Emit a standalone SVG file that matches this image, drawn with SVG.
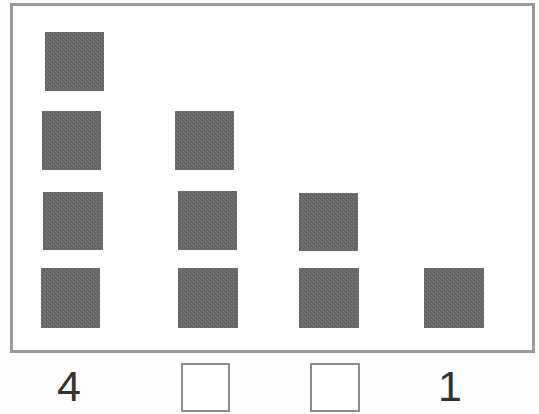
<svg xmlns="http://www.w3.org/2000/svg" width="539" height="414" viewBox="0 0 539 414">
  <defs>
    <pattern id="dots" width="4" height="4" patternUnits="userSpaceOnUse">
      <rect width="4" height="4" fill="#666"/>
      <rect x="1" y="1" width="1" height="1" fill="#8a8a8a"/>
      <rect x="3" y="3" width="1" height="1" fill="#7c7c7c"/>
    </pattern>
  </defs>
  <style>
    .sq { fill: url(#dots); }
    .box { fill: #ffffff; stroke: #8c8c8c; stroke-width: 2; }
    .num { font-family: "Liberation Sans", Arial, sans-serif; font-size: 43px; fill: #333; text-anchor: middle; }
  </style>
  <rect width="539" height="414" fill="#fdfdfd"/>
  <g id="frame">
    <rect x="11.5" y="4.5" width="522" height="347" fill="#ffffff" stroke="#9a9a9a" stroke-width="3"/>
  </g>
  <g id="column1">
    <rect class="sq" x="45" y="32" width="59" height="59"/>
    <rect class="sq" x="42" y="111" width="59" height="59"/>
    <rect class="sq" x="43" y="192" width="60" height="58"/>
    <rect class="sq" x="41" y="268" width="59" height="60"/>
  </g>
  <g id="column2">
    <rect class="sq" x="175" y="111" width="59" height="59"/>
    <rect class="sq" x="178" y="191" width="59" height="59"/>
    <rect class="sq" x="178" y="268" width="60" height="60"/>
  </g>
  <g id="column3">
    <rect class="sq" x="299" y="193" width="59" height="58"/>
    <rect class="sq" x="299" y="268" width="60" height="60"/>
  </g>
  <g id="column4">
    <rect class="sq" x="424" y="268" width="60" height="60"/>
  </g>
  <g id="labels">
    <text class="num" x="69" y="401">4</text>
    <rect class="box" x="182" y="364" width="47" height="47"/>
    <rect class="box" x="311" y="364" width="48" height="47"/>
    <text class="num" x="450" y="401">1</text>
  </g>
  <g id="connectors"/>
</svg>
